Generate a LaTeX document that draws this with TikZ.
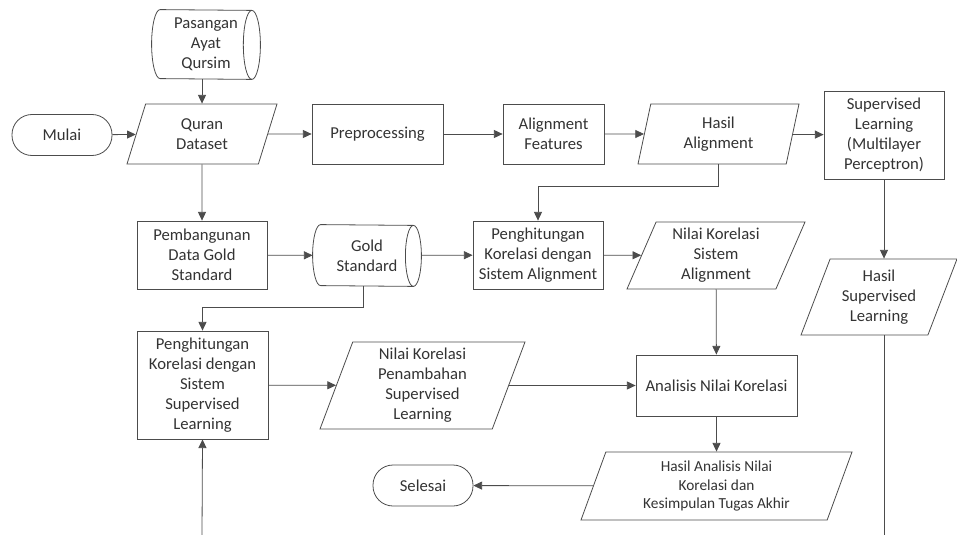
\documentclass[tikz,border=0pt]{standalone}
\usepackage{fontspec}
\setmainfont{Carlito}
\usetikzlibrary{shapes.geometric,arrows.meta}
\begin{document}
\begin{tikzpicture}[x=0.75pt,y=-0.75pt,
    every node/.style={draw=black!70,line width=0.6pt,text=black!80,align=center,inner sep=1pt,font=\fontsize{12.5}{15}\selectfont},
    term/.style={rectangle,rounded corners=15pt,minimum width=75pt,minimum height=30.75pt},
    proc/.style={rectangle},
    io/.style={trapezium,trapezium left angle=63,trapezium right angle=117,trapezium stretches body},
    store/.style={rectangle,draw=none,minimum width=81pt},
    flow/.style={draw=black!70,line width=0.6pt},
    >={Triangle[length=6.5pt,width=6pt]}]
    \useasboundingbox (0,0) rectangle (957,535);
    \node[term] (mulai) at (62,135) {Mulai};
    \node[store,minimum height=51.75pt] (pasangan) at (206,44.5) {Pasangan\\Ayat\\Qursim};
    \node[io,minimum width=112.5pt,minimum height=45pt,trapezium left angle=61,trapezium right angle=119] (quran) at (202,134) {Quran\\Dataset};
    \node[proc,minimum width=98.25pt,minimum height=45pt] (prep) at (377.5,134) {Preprocessing};
    \node[proc,minimum width=75.75pt,minimum height=45pt] (feat) at (553.5,134) {Alignment\\Features};
    \node[io,minimum width=120.75pt,minimum height=45pt,trapezium left angle=71,trapezium right angle=109] (hasilal) at (718.5,134) {Hasil\\Alignment};
    \node[proc,minimum width=90pt,minimum height=66pt] (sl) at (884,135) {Supervised\\Learning\\(Multilayer\\Perceptron)};
    \node[proc,minimum width=97.5pt,minimum height=51pt] (pemb) at (202,255) {Pembangunan\\Data Gold\\Standard};
    \node[store,minimum height=45.75pt] (gold) at (367,255.5) {Gold\\Standard};
    \node[proc,minimum width=97.5pt,minimum height=51pt] (penghal) at (538,255) {Penghitungan\\Korelasi dengan\\Sistem Alignment};
    \node[io,minimum width=133.5pt,minimum height=50.25pt] (nilaisa) at (716,255.5) {Nilai Korelasi\\Sistem\\Alignment};
    \node[io,minimum width=117pt,minimum height=57pt] (hasilsl) at (879,297) {Hasil\\Supervised\\Learning};
    \node[proc,minimum width=98.25pt,minimum height=81pt] (penghsl) at (202.5,385) {Penghitungan\\Korelasi dengan\\Sistem\\Supervised\\Learning};
    \node[io,minimum width=153.75pt,minimum height=65.25pt,trapezium left angle=67,trapezium right angle=113] (nilaipen) at (422.5,385.5) {Nilai Korelasi\\Penambahan\\Supervised\\Learning};
    \node[proc,minimum width=120.75pt,minimum height=45.75pt] (analisis) at (716.5,385.5) {Analisis Nilai Korelasi};
    \node[io,minimum width=203.25pt,minimum height=51pt,trapezium left angle=65,trapezium right angle=115,font=\fontsize{11.5}{14}\selectfont] (hasilan) at (716.5,486) {Hasil Analisis Nilai\\Korelasi dan\\Kesimpulan Tugas Akhir};
    \node[term] (selesai) at (423,485.5) {Selesai};
    \coordinate (bawahsl) at (884,535);
    \coordinate (bawahkiri) at (202,535);
    \path[flow] ([xshift=6.4pt]pasangan.north west) arc[start angle=90,end angle=270,x radius=6.4pt,y radius=25.875pt]
        -- ([xshift=-6.4pt]pasangan.south east) arc[start angle=-90,end angle=90,x radius=6.4pt,y radius=25.875pt] -- cycle;
    \path[flow] ([xshift=-6.4pt]pasangan.south east) arc[start angle=270,end angle=90,x radius=6.4pt,y radius=25.875pt];
    \path[flow] ([xshift=6pt]gold.north west) arc[start angle=90,end angle=270,x radius=6pt,y radius=22.875pt]
        -- ([xshift=-6pt]gold.south east) arc[start angle=-90,end angle=90,x radius=6pt,y radius=22.875pt] -- cycle;
    \path[flow] ([xshift=-6pt]gold.south east) arc[start angle=270,end angle=90,x radius=6pt,y radius=22.875pt];
    \path[flow,->] (quran.north |- pasangan.south) -- (quran.north);
    \path[flow,->] (mulai) -- (quran);
    \path[flow,->] (quran) -- (prep);
    \path[flow,->] (prep) -- (feat);
    \path[flow,->] (feat) -- (hasilal);
    \path[flow,->] (hasilal) -- (sl);
    \path[flow,->] (quran) -- (pemb);
    \path[flow,->] (hasilal.south) -- ++(0,22) -| (penghal.north);
    \path[flow,->] (sl.south) -- (sl.south |- hasilsl.north);
    \path[flow] (sl.south |- hasilsl.south) -- (bawahsl);
    \path[flow,->] (pemb) -- (gold);
    \path[flow,->] (gold) -- (penghal);
    \path[flow,->] ([xshift=-3pt]gold.south) -- ++(0,21) -| (penghsl.north);
    \path[flow,->] (penghal) -- (nilaisa);
    \path[flow,->] (nilaisa) -- (analisis);
    \path[flow,->] (penghsl) -- (nilaipen);
    \path[flow,->] (nilaipen) -- (analisis);
    \path[flow,->] (analisis) -- (hasilan);
    \path[flow,->] (hasilan) -- (selesai);
    \path[flow,->] (bawahkiri) -- (penghsl.south);
\end{tikzpicture}
\end{document}
